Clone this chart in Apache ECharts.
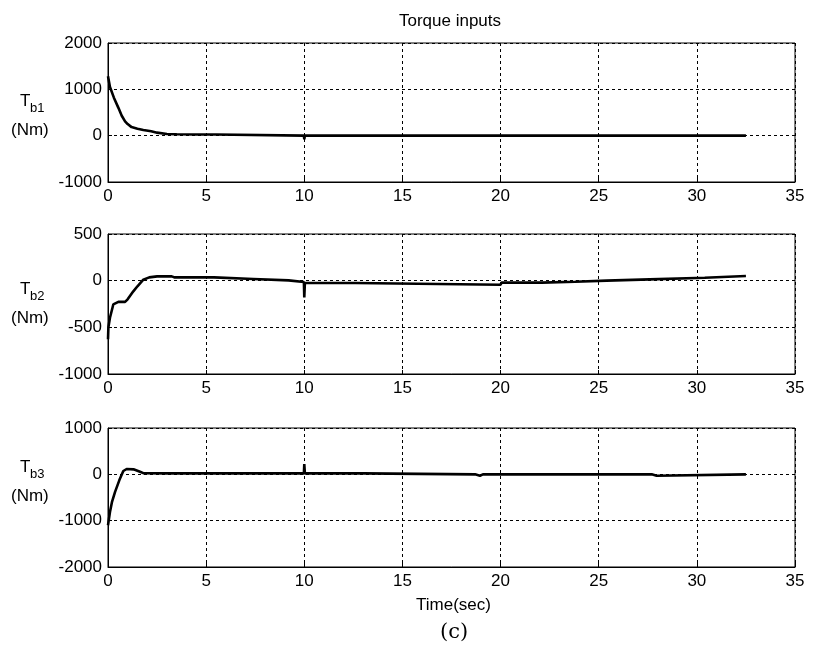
<!DOCTYPE html>
<html><head><meta charset="utf-8">
<script src="https://cdn.jsdelivr.net/npm/echarts@6/dist/echarts.min.js"></script>
<style>html,body{margin:0;padding:0;background:#fff}#c{width:818px;height:651px}</style>
</head><body><div id="c"></div>
<script>
// Data
const xTicks = [0, 5, 10, 15, 20, 25, 30, 35];
const t1 = [0, 0.1, 0.3, 0.53, 0.7, 0.87, 1.0, 1.2, 1.5, 1.8, 2.2, 2.5, 3.0, 3.5, 4.5, 5.5, 5.55, 9.98, 10.0, 10.03, 15, 20, 25, 30, 32.5];
const y1 = [1280, 1050, 820, 600, 430, 310, 250, 185, 150, 123, 95, 65, 37, 30, 25, 25, 0, 0, -80, 0, 0, 0, 0, 0, 0];
const t2 = [0, 0.02, 0.1, 0.27, 0.53, 0.87, 1.0, 1.29, 1.5, 1.8, 2.1, 2.5, 3.25, 3.4, 5.4, 5.5, 7.4, 7.45, 9.2, 9.25, 9.98, 10.0, 10.03, 12.6, 12.65, 20.0, 20.05, 22.1, 22.15, 23.8, 23.85, 25.4, 25.45, 27.6, 27.65, 30.4, 30.45, 32.5];
const y2 = [-628, -500, -397, -255, -227, -227, -200, -114, -60, 10, 35, 46, 46, 35, 35, 18, 18, 3, 3, -14, -14, -180, -25, -25, -43, -43, -21, -21, -11, -11, 0, 0, 14, 14, 32, 32, 50, 50];
const t3 = [0, 0.1, 0.2, 0.36, 0.58, 0.78, 0.95, 1.3, 1.63, 1.8, 3, 9.98, 10.0, 10.03, 13.0, 13.05, 18.7, 18.8, 18.95, 19.1, 19.15, 27.7, 27.8, 27.95, 28.05, 32.5];
const y3 = [-1100, -813, -600, -378, -124, 72, 115, 108, 57, 25, 20, 20, 220, 20, 20, 0, 0, -30, -30, 0, 0, 0, -30, -30, 0, 0];
const yRanges = [[-1000, 2000, 1000], [-1000, 500, 500], [-2000, 1000, 1000]];
const yNames = ['b1', 'b2', 'b3'];

const zip = (a, b) => a.map((v, i) => [v, b[i]]);
const series = [zip(t1, y1), zip(t2, y2), zip(t3, y3)];

const grids = [
  {left: 108, top: 43, width: 687, height: 139},
  {left: 108, top: 234, width: 687, height: 140},
  {left: 108, top: 428, width: 687, height: 139}
].map(g => Object.assign(g, {show: true, borderColor: '#000', borderWidth: 1, backgroundColor: '#fff'}));

const font = 'Liberation Sans, Arial, sans-serif';
const dashed = {show: true, lineStyle: {color: '#000', type: [3, 3], width: 1}};
const plain = v => String(v);

const xAxis = grids.map((g, i) => ({
  gridIndex: i, type: 'value', min: 0, max: 35, interval: 5,
  axisLine: {show: true, onZero: false, lineStyle: {color: '#000'}},
  axisTick: {show: true, inside: true, length: 4, lineStyle: {color: '#000'}},
  axisLabel: {color: '#000', fontSize: 17, fontFamily: font, margin: 6, formatter: plain},
  splitLine: dashed
}));
const yAxis = yRanges.map((r, i) => ({
  gridIndex: i, type: 'value', min: r[0], max: r[1], interval: r[2],
  axisLine: {show: true, onZero: false, lineStyle: {color: '#000'}},
  axisTick: {show: true, inside: true, length: 4, lineStyle: {color: '#000'}},
  axisLabel: {color: '#000', fontSize: 17, fontFamily: font, margin: 6, formatter: plain},
  splitLine: dashed
}));

const labelTops = [93, 281, 459];
const graphic = [];
yNames.forEach((n, i) => {
  graphic.push({type: 'text', left: 20, top: labelTops[i], style: {text: 'T', font: '17px ' + font, fill: '#000'}});
  graphic.push({type: 'text', left: 30, top: labelTops[i] + 9, style: {text: n, font: '13px ' + font, fill: '#000'}});
  graphic.push({type: 'text', left: 11, top: labelTops[i] + 29, style: {text: '(Nm)', font: '17px ' + font, fill: '#000'}});
});
graphic.push({type: 'text', left: 416, top: 597, style: {text: 'Time(sec)', font: '17px ' + font, fill: '#000'}});
graphic.push({type: 'text', left: 440, top: 622, style: {text: '(c)', font: '21px "DejaVu Serif", "Liberation Serif", serif', fill: '#000'}});

const chart = echarts.init(document.getElementById('c'));
chart.setOption({
  animation: false,
  backgroundColor: '#fff',
  title: {text: 'Torque inputs', left: 445, textAlign: 'center', top: 8,
    textStyle: {fontSize: 17, fontWeight: 'normal', color: '#000', fontFamily: font}},
  grid: grids, xAxis, yAxis, graphic,
  series: series.map((d, i) => ({
    type: 'line', xAxisIndex: i, yAxisIndex: i, data: d, showSymbol: false,
    lineStyle: {color: '#000', width: 2.6}, z: 5
  }))
});
</script></body></html>
